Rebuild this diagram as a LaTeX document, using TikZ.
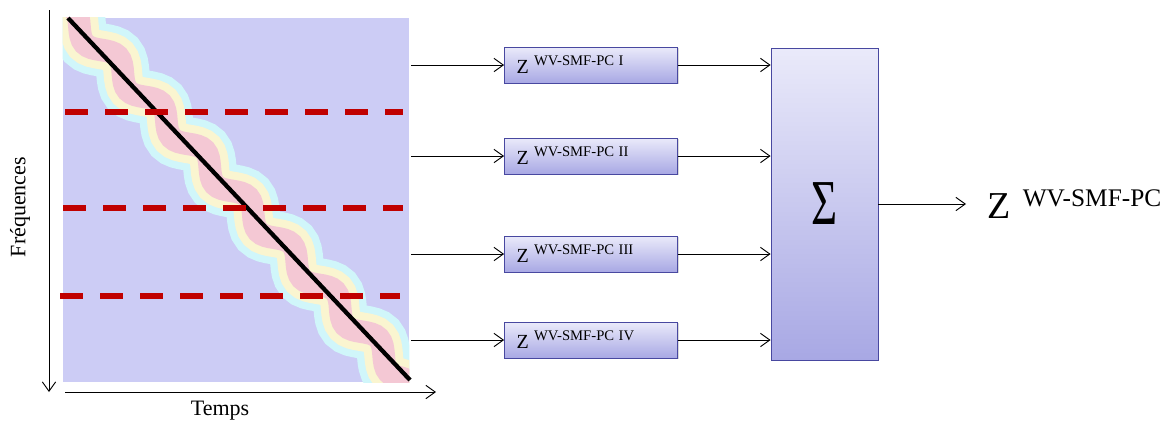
\documentclass[tikz,border=0pt]{standalone}
\usepackage{fontspec}
\setmainfont{Liberation Serif}
\usetikzlibrary{positioning, arrows.meta, shadows, decorations.pathmorphing}
\definecolor{specbg}{RGB}{204,204,245}
\definecolor{bandcyan}{RGB}{208,246,250}
\definecolor{bandyellow}{RGB}{250,245,208}
\definecolor{bandpink}{RGB}{244,200,212}
\definecolor{cutred}{RGB}{192,0,0}
\definecolor{boxtop}{RGB}{234,234,250}
\definecolor{boxbot}{RGB}{168,168,228}
\definecolor{boxborder}{RGB}{72,72,160}
\tikzset{
  pcbox/.style = {rectangle, draw=boxborder, semithick, top color=boxtop,
                  bottom color=boxbot, minimum width=129.75pt, minimum height=27pt,
                  text width=111.75pt, inner xsep=9pt, inner ysep=0pt, align=left,
                  drop shadow={opacity=0.3, shadow xshift=1pt, shadow yshift=-1pt}},
  pcarrow/.style = {-{Straight Barb[length=7pt, width=10pt]}, line width=0.7pt},
  cutline/.style = {draw=cutred, line width=4.2pt, dash pattern=on 17pt off 13pt},
  band/.style = {line width=#1, decorate,
                 decoration={snake, amplitude=6pt, segment length=48pt}},
  axislabel/.style = {font=\fontsize{16.5}{18}\selectfont}
}
\newcommand{\zsup}[1]{{\fontsize{15}{16}\selectfont Z}\hspace{4pt}\raisebox{6pt}{\fontsize{11}{12}\selectfont #1}}

\begin{document}
\begin{tikzpicture}[x=0.75pt, y=-0.75pt]
\useasboundingbox (0,0) rectangle (1171,426);

% time-frequency plane
\node[fill=specbg, minimum width=259.5pt, minimum height=273pt, inner sep=0pt] (spec) at (236,200) {};
\begin{scope}
  \clip (spec.south west) rectangle (spec.north east);
  \draw[band=40pt, bandcyan] (55,0) -- (425,400);
  \draw[band=29pt, bandyellow] (55,0) -- (425,400);
  \draw[band=17pt, bandpink] (55,0) -- (425,400);
\end{scope}
\draw[line width=3.2pt] (68,18) -- (410,380);

% band limits
\draw[cutline] (65,112) -- (403,112);
\draw[cutline] (63,208) -- (403,208);
\draw[cutline] (60,296) -- (400,296);

% axes
\coordinate (ftop) at (49,10);
\coordinate (fbot) at (49,392);
\coordinate (tleft) at (65,392);
\coordinate (tright) at (436,392);
\draw[pcarrow] (ftop) -- (fbot);
\draw[pcarrow] (tleft) -- (tright);
\node[axislabel, rotate=90] (freq) at (20,207) {Fréquences};
\node[axislabel] (temps) at (220,411) {Temps};

% sub-band boxes
\node[pcbox] (pc1) at (591,65) {\zsup{WV-SMF-PC I}};
\node[pcbox] (pc2) at (591,156) {\zsup{WV-SMF-PC II}};
\node[pcbox] (pc3) at (591,254) {\zsup{WV-SMF-PC III}};
\node[pcbox] (pc4) at (591,340) {\zsup{WV-SMF-PC IV}};

% summation
\node[rectangle, draw=boxborder, semithick, top color=boxtop, bottom color=boxbot,
      minimum width=80.25pt, minimum height=234pt,
      drop shadow={opacity=0.3, shadow xshift=1pt, shadow yshift=-1pt}] (sum) at (824.5,204)
      {\fontsize{48}{50}\selectfont\scalebox{0.7}[1]{Σ}};

\node[anchor=west, inner xsep=16pt] (out) at (966,204)
      {{\fontsize{28.5}{30}\selectfont Z}\hspace{9pt}\raisebox{9pt}{\fontsize{19}{20}\selectfont WV-SMF-PC}};

\foreach \i in {1,...,4} {
  \draw[pcarrow] (spec.east |- pc\i.west) ++(2,0) -- (pc\i.west);
  \draw[pcarrow] (pc\i.east) -- (sum.west |- pc\i.east);
}
\draw[pcarrow] (sum.east) -- (out.west);
\end{tikzpicture}
\end{document}
